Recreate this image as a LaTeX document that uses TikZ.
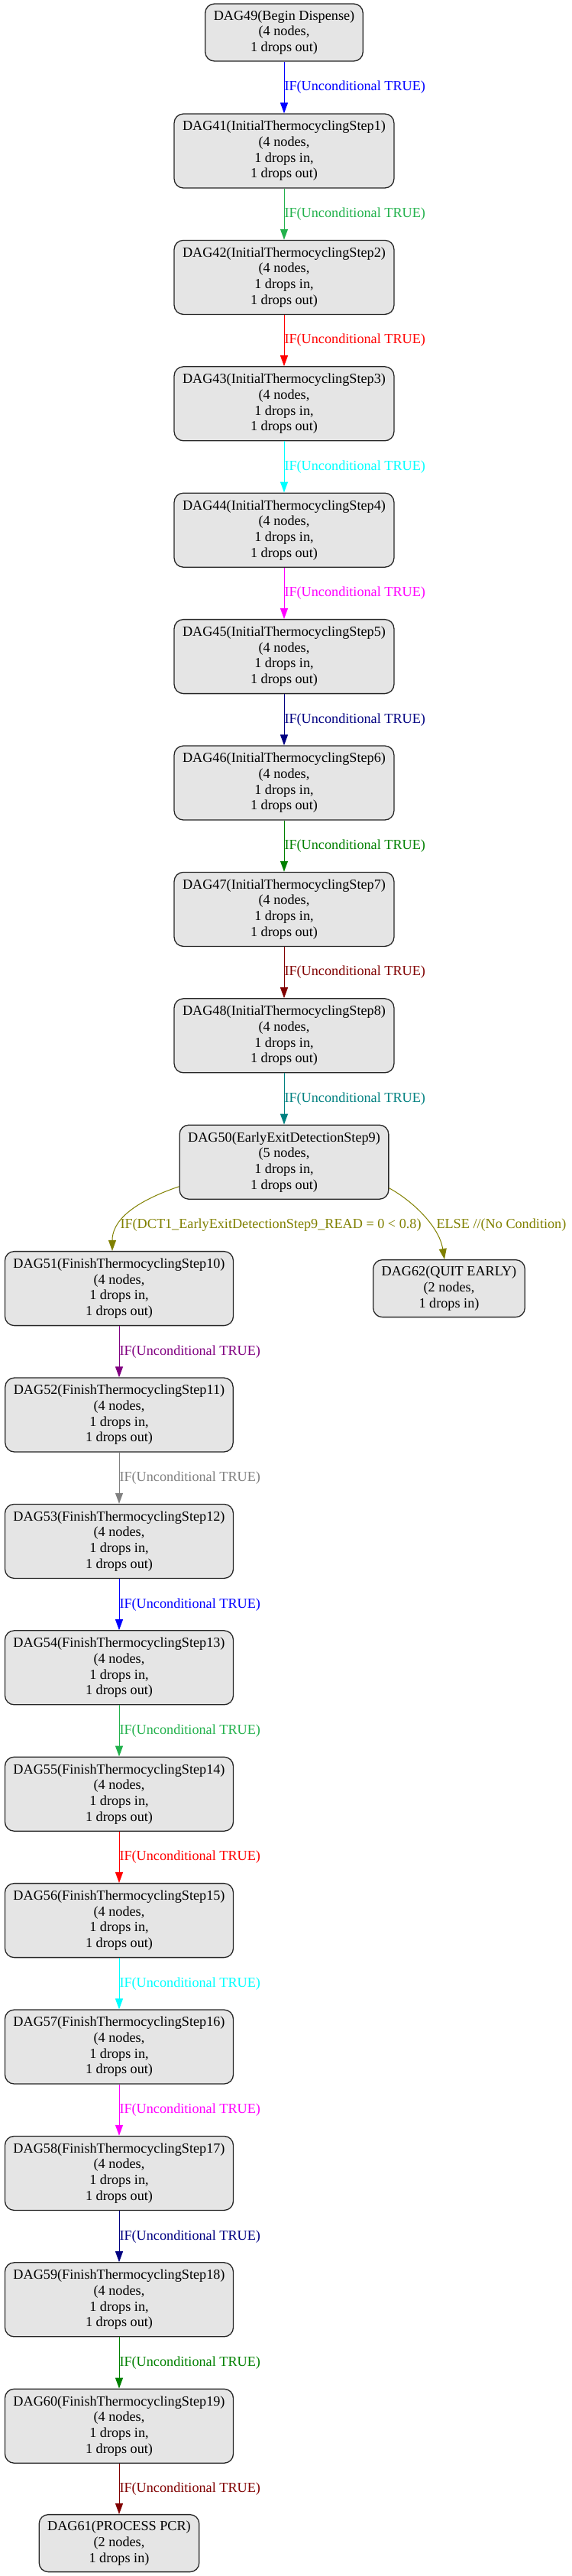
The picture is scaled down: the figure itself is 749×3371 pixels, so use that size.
\documentclass[tikz,border=0pt]{standalone}
\usepackage{fontspec}
\setmainfont{Liberation Serif}
\usetikzlibrary{positioning,arrows.meta}

\definecolor{eblue}{RGB}{0,0,255}
\definecolor{egreen}{RGB}{34,177,76}
\definecolor{ered}{RGB}{255,0,0}
\definecolor{ecyan}{RGB}{0,255,255}
\definecolor{emagenta}{RGB}{255,0,255}
\definecolor{enavy}{RGB}{0,0,128}
\definecolor{edkgreen}{RGB}{0,128,0}
\definecolor{emaroon}{RGB}{128,0,0}
\definecolor{eteal}{RGB}{0,128,128}
\definecolor{eolive}{RGB}{128,128,0}
\definecolor{epurple}{RGB}{128,0,128}
\definecolor{egray}{RGB}{128,128,128}

\begin{document}
\begin{tikzpicture}[x=1pt, y=-1pt, node distance=165.4pt,
    dagbox/.style={rectangle, rounded corners=12pt, draw=black!85, fill=gray!20, line width=1.3pt,
        align=center, inner xsep=11pt, inner ysep=2pt, font=\fontsize{18.2}{20.7}\selectfont},
    four/.style={minimum height=97pt},
    three/.style={minimum height=75pt},
    flow/.style={-{Triangle[length=14pt,width=10pt]}, line width=1pt},
    cond/.style={midway, anchor=west, inner sep=0pt, font=\fontsize{18.2}{20.7}\selectfont}]
    \useasboundingbox (0,0) rectangle (749,3371);

    % initial thermocycling chain
    \node[dagbox, three] (dag49) at (372,42.5) {DAG49(Begin Dispense)\\(4 nodes,\\1 drops out)};
    \node[dagbox, four, below of=dag49, node distance=155pt] (dag41) {DAG41(InitialThermocyclingStep1)\\(4 nodes,\\1 drops in,\\1 drops out)};
    \node[dagbox, four, below of=dag41] (dag42) {DAG42(InitialThermocyclingStep2)\\(4 nodes,\\1 drops in,\\1 drops out)};
    \node[dagbox, four, below of=dag42] (dag43) {DAG43(InitialThermocyclingStep3)\\(4 nodes,\\1 drops in,\\1 drops out)};
    \node[dagbox, four, below of=dag43] (dag44) {DAG44(InitialThermocyclingStep4)\\(4 nodes,\\1 drops in,\\1 drops out)};
    \node[dagbox, four, below of=dag44] (dag45) {DAG45(InitialThermocyclingStep5)\\(4 nodes,\\1 drops in,\\1 drops out)};
    \node[dagbox, four, below of=dag45] (dag46) {DAG46(InitialThermocyclingStep6)\\(4 nodes,\\1 drops in,\\1 drops out)};
    \node[dagbox, four, below of=dag46] (dag47) {DAG47(InitialThermocyclingStep7)\\(4 nodes,\\1 drops in,\\1 drops out)};
    \node[dagbox, four, below of=dag47] (dag48) {DAG48(InitialThermocyclingStep8)\\(4 nodes,\\1 drops in,\\1 drops out)};
    \node[dagbox, four, below of=dag48] (dag50) {DAG50(EarlyExitDetectionStep9)\\(5 nodes,\\1 drops in,\\1 drops out)};

    % the two branches
    \node[dagbox, four, below of=dag50, xshift=-216pt] (dag51) {DAG51(FinishThermocyclingStep10)\\(4 nodes,\\1 drops in,\\1 drops out)};
    \node[dagbox, three, below of=dag50, xshift=216pt] (dag62) {DAG62(QUIT EARLY)\\(2 nodes,\\1 drops in)};

    % finish thermocycling chain
    \node[dagbox, four, below of=dag51] (dag52) {DAG52(FinishThermocyclingStep11)\\(4 nodes,\\1 drops in,\\1 drops out)};
    \node[dagbox, four, below of=dag52] (dag53) {DAG53(FinishThermocyclingStep12)\\(4 nodes,\\1 drops in,\\1 drops out)};
    \node[dagbox, four, below of=dag53] (dag54) {DAG54(FinishThermocyclingStep13)\\(4 nodes,\\1 drops in,\\1 drops out)};
    \node[dagbox, four, below of=dag54] (dag55) {DAG55(FinishThermocyclingStep14)\\(4 nodes,\\1 drops in,\\1 drops out)};
    \node[dagbox, four, below of=dag55] (dag56) {DAG56(FinishThermocyclingStep15)\\(4 nodes,\\1 drops in,\\1 drops out)};
    \node[dagbox, four, below of=dag56] (dag57) {DAG57(FinishThermocyclingStep16)\\(4 nodes,\\1 drops in,\\1 drops out)};
    \node[dagbox, four, below of=dag57] (dag58) {DAG58(FinishThermocyclingStep17)\\(4 nodes,\\1 drops in,\\1 drops out)};
    \node[dagbox, four, below of=dag58] (dag59) {DAG59(FinishThermocyclingStep18)\\(4 nodes,\\1 drops in,\\1 drops out)};
    \node[dagbox, four, below of=dag59] (dag60) {DAG60(FinishThermocyclingStep19)\\(4 nodes,\\1 drops in,\\1 drops out)};
    \node[dagbox, three, below of=dag60, node distance=153.4pt] (dag61) {DAG61(PROCESS PCR)\\(2 nodes,\\1 drops in)};

    % edges
    \draw[flow, eblue] (dag49) -- node[cond] {IF(Unconditional TRUE)} (dag41);
    \draw[flow, egreen] (dag41) -- node[cond] {IF(Unconditional TRUE)} (dag42);
    \draw[flow, ered] (dag42) -- node[cond] {IF(Unconditional TRUE)} (dag43);
    \draw[flow, ecyan] (dag43) -- node[cond] {IF(Unconditional TRUE)} (dag44);
    \draw[flow, emagenta] (dag44) -- node[cond] {IF(Unconditional TRUE)} (dag45);
    \draw[flow, enavy] (dag45) -- node[cond] {IF(Unconditional TRUE)} (dag46);
    \draw[flow, edkgreen] (dag46) -- node[cond] {IF(Unconditional TRUE)} (dag47);
    \draw[flow, emaroon] (dag47) -- node[cond] {IF(Unconditional TRUE)} (dag48);
    \draw[flow, eteal] (dag48) -- node[cond] {IF(Unconditional TRUE)} (dag50);

    \draw[flow, eolive] ([yshift=-32pt]dag50.west) .. controls +(-65pt,-22pt) and +(0pt,37pt) .. ([xshift=-9pt]dag51.north)
        node[anchor=west, inner sep=0pt, font=\fontsize{18.2}{20.7}\selectfont] at (157,1603) {IF(DCT1\_EarlyExitDetectionStep9\_READ = 0 < 0.8)};
    \draw[flow, eolive] ([yshift=-34pt]dag50.east) .. controls +(31pt,-17pt) and +(-7pt,43pt) .. ([xshift=-6pt]dag62.north)
        node[anchor=west, inner sep=0pt, font=\fontsize{18.2}{20.7}\selectfont] at (571,1603) {ELSE //(No Condition)};

    \draw[flow, epurple] (dag51) -- node[cond] {IF(Unconditional TRUE)} (dag52);
    \draw[flow, egray] (dag52) -- node[cond] {IF(Unconditional TRUE)} (dag53);
    \draw[flow, eblue] (dag53) -- node[cond] {IF(Unconditional TRUE)} (dag54);
    \draw[flow, egreen] (dag54) -- node[cond] {IF(Unconditional TRUE)} (dag55);
    \draw[flow, ered] (dag55) -- node[cond] {IF(Unconditional TRUE)} (dag56);
    \draw[flow, ecyan] (dag56) -- node[cond] {IF(Unconditional TRUE)} (dag57);
    \draw[flow, emagenta] (dag57) -- node[cond] {IF(Unconditional TRUE)} (dag58);
    \draw[flow, enavy] (dag58) -- node[cond] {IF(Unconditional TRUE)} (dag59);
    \draw[flow, edkgreen] (dag59) -- node[cond] {IF(Unconditional TRUE)} (dag60);
    \draw[flow, emaroon] (dag60) -- node[cond] {IF(Unconditional TRUE)} (dag61);
\end{tikzpicture}
\end{document}
